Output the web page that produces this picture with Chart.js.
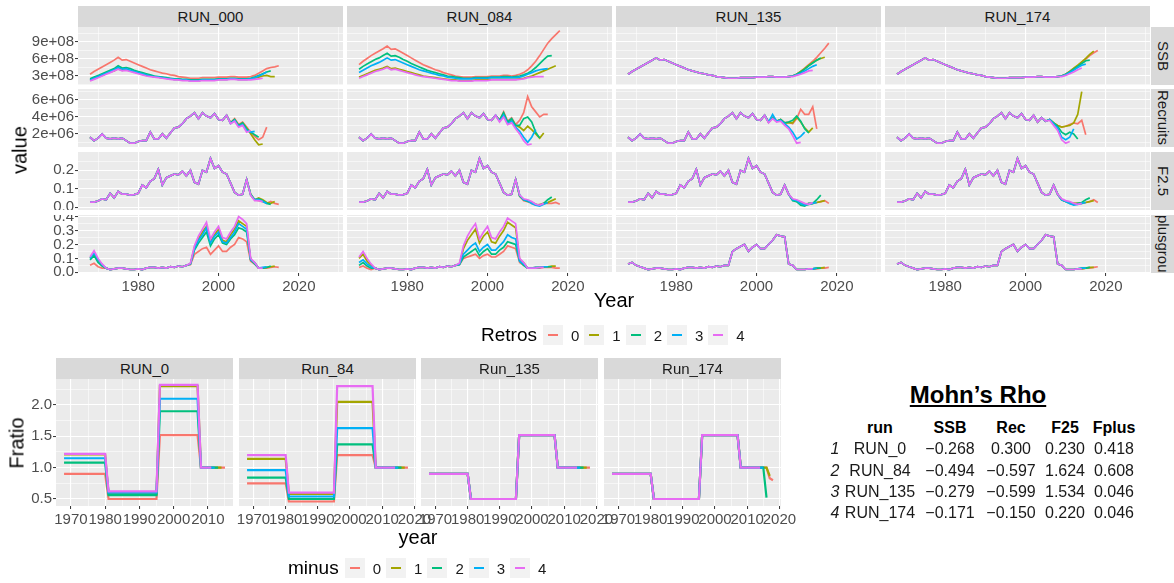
<!DOCTYPE html>
<html>
<head>
<meta charset="utf-8">
<script src="https://cdn.jsdelivr.net/npm/chart.js@4.4.1/dist/chart.umd.min.js"></script>
<style>
  body { margin: 0; width: 1174px; height: 583px; overflow: hidden; background: #fff; position: relative;
         font-family: 'Liberation Sans', Arial, sans-serif; }
  canvas { position: absolute; }
  .strip { position: absolute; background: #D9D9D9; color: #1A1A1A; font-size: 15px; display: flex;
           align-items: center; justify-content: center; overflow: hidden; white-space: nowrap; }
  .strip.v { display: block; writing-mode: vertical-rl; text-align: center; line-height: 25px; }
  .txt { position: absolute; white-space: nowrap; transform: translate(-50%, -50%); }
  .legend { position: absolute; display: flex; align-items: center; transform: translateY(-50%); }
  .legend .ttl { font-size: 19px; color: #000; margin-right: 6px; }
  .legend .key { width: 20px; height: 20px; background: #F2F2F2; position: relative; }
  .legend .key i { position: absolute; left: 5px; right: 5px; top: 9px; height: 2px; }
  .legend .lab { font-size: 15px; color: #1A1A1A; margin: 0 5px 0 8px; }
</style>
</head>
<body>
<script>
// ---- shared ----
const retroColors = ["#F8766D", "#A3A500", "#00BF7D", "#00B0F6", "#E76BF3"];
const retroNames = ["0", "1", "2", "3", "4"];
const topRuns = ["RUN_000", "RUN_084", "RUN_135", "RUN_174"];
const topVars = ["SSB", "Recruits", "F2.5", "plusgroup"];
const firstYear = 1968;

// ---- SSB (units of 1e8), one array per retro (0..4) ----
const ssb000 = [
  [3.3,3.8,4.2,4.6,5.0,5.4,5.8,6.3,5.8,5.9,5.6,5.3,5.0,4.7,4.4,4.1,3.9,3.7,3.5,3.4,3.2,3.1,2.9,2.8,2.7,2.6,2.6,2.6,2.7,2.7,2.7,2.7,2.8,2.8,2.8,2.9,2.9,2.8,2.8,2.8,2.9,3.1,3.5,3.9,4.3,4.5,4.6,4.8],
  [2.2,2.5,2.8,3.1,3.4,3.7,3.9,4.3,4.0,4.1,3.9,3.7,3.5,3.3,3.1,3.0,2.9,2.8,2.7,2.6,2.5,2.4,2.4,2.3,2.3,2.2,2.2,2.2,2.3,2.3,2.3,2.3,2.4,2.4,2.4,2.5,2.5,2.4,2.4,2.4,2.5,2.6,2.8,3.0,3.1,2.9,2.9],
  [2.5,2.8,3.1,3.4,3.7,4.0,4.3,4.8,4.4,4.5,4.3,4.0,3.8,3.6,3.4,3.2,3.0,2.9,2.8,2.7,2.6,2.5,2.5,2.4,2.4,2.3,2.3,2.3,2.4,2.4,2.4,2.4,2.5,2.5,2.5,2.6,2.6,2.5,2.5,2.5,2.6,2.8,3.1,3.4,3.7,3.9],
  [2.3,2.6,2.9,3.2,3.5,3.8,4.1,4.5,4.2,4.3,4.0,3.8,3.6,3.4,3.2,3.0,2.9,2.8,2.7,2.6,2.5,2.4,2.4,2.3,2.3,2.2,2.2,2.2,2.3,2.3,2.3,2.3,2.4,2.4,2.4,2.5,2.5,2.4,2.4,2.4,2.5,2.7,3.0,3.3,3.7],
  [2.1,2.4,2.7,3.0,3.3,3.6,3.9,4.2,3.9,4.0,3.8,3.6,3.4,3.2,3.0,2.9,2.8,2.7,2.6,2.5,2.4,2.3,2.3,2.2,2.2,2.1,2.1,2.1,2.2,2.2,2.2,2.2,2.3,2.3,2.3,2.4,2.4,2.3,2.3,2.3,2.3,2.4,2.5,2.6]
];
const ssb084 = [
  [5.0,5.6,6.1,6.6,7.0,7.4,7.8,8.3,7.7,7.8,7.4,7.0,6.6,6.2,5.8,5.4,5.0,4.7,4.4,4.1,3.9,3.6,3.4,3.2,3.0,2.9,2.8,2.8,2.8,2.9,2.9,2.9,2.9,3.0,3.0,3.0,3.1,3.1,3.0,3.1,3.3,3.6,4.1,4.8,5.6,6.6,7.7,8.8,9.6,10.3,11.0],
  [2.8,3.1,3.4,3.7,4.0,4.2,4.4,4.7,4.3,4.4,4.2,4.0,3.8,3.6,3.4,3.2,3.0,2.9,2.8,2.7,2.6,2.5,2.4,2.3,2.3,2.2,2.2,2.2,2.2,2.3,2.3,2.3,2.3,2.4,2.4,2.4,2.4,2.4,2.4,2.4,2.5,2.6,2.8,3.0,3.3,3.6,3.9,4.2,4.5,4.8],
  [4.2,4.7,5.1,5.5,5.9,6.2,6.6,7.0,6.5,6.6,6.3,5.9,5.6,5.2,4.9,4.6,4.3,4.0,3.8,3.6,3.4,3.2,3.0,2.9,2.8,2.7,2.6,2.6,2.6,2.7,2.7,2.7,2.7,2.8,2.8,2.8,2.9,2.9,2.8,2.9,3.0,3.2,3.5,3.9,4.5,5.2,5.9,6.5,6.6],
  [3.6,4.0,4.4,4.8,5.1,5.4,5.8,6.2,5.8,5.9,5.6,5.3,5.0,4.7,4.4,4.1,3.9,3.7,3.5,3.3,3.1,3.0,2.8,2.7,2.6,2.5,2.5,2.5,2.5,2.6,2.6,2.6,2.6,2.7,2.7,2.7,2.7,2.7,2.7,2.7,2.8,3.0,3.3,3.6,3.9,4.1,4.2,4.3],
  [2.6,2.9,3.2,3.5,3.8,4.0,4.2,4.5,4.1,4.2,4.0,3.8,3.6,3.4,3.2,3.0,2.9,2.8,2.7,2.6,2.5,2.4,2.3,2.2,2.2,2.1,2.1,2.1,2.1,2.2,2.2,2.2,2.2,2.3,2.3,2.3,2.3,2.3,2.3,2.3,2.4,2.5,2.7,2.8,2.9,2.9,2.9]
];
// 1968-2008, shared by RUN_135 / RUN_174, then retro tails from 2009
const ssbHistLate = [3.3,3.8,4.2,4.6,5.0,5.4,5.8,6.2,5.8,5.9,5.6,5.3,5.0,4.7,4.4,4.1,3.9,3.7,3.5,3.4,3.2,3.1,2.9,2.8,2.7,2.6,2.6,2.6,2.7,2.7,2.7,2.7,2.8,2.8,2.8,2.9,2.9,2.8,2.8,2.8,2.9];
const ssbTail135 = [
  [3.0,3.3,3.8,4.4,5.0,5.6,6.3,7.1,7.9,8.8],
  [3.0,3.3,3.8,4.3,4.9,5.4,5.8,6.1,6.3],
  [3.0,3.3,3.7,4.2,4.8,5.3,5.8,6.2],
  [3.0,3.2,3.5,3.9,4.3,4.7,5.0],
  [2.9,3.1,3.3,3.6,3.9,4.0]
];
const ssbTail174 = [
  [3.0,3.3,3.8,4.3,4.8,5.4,6.0,6.6,7.1,7.5],
  [3.0,3.3,3.8,4.4,4.9,5.5,6.1,6.8,7.4],
  [3.0,3.3,3.7,4.2,4.7,5.2,5.7,5.8],
  [3.0,3.2,3.6,4.0,4.5,4.9,5.1],
  [2.9,3.1,3.4,3.7,4.1,4.4]
];

// ---- Recruits (units of 1e6): 1968-2002 shared, tails from 2003 ----
const recHist = [1.6,1.2,1.5,2.0,1.5,1.4,1.5,1.4,1.5,1.2,0.9,0.9,1.1,1.2,1.2,2.2,1.4,1.4,2.0,1.5,2.1,2.7,2.8,3.2,3.8,4.1,4.5,3.8,4.5,4.1,3.9,4.4,3.7,3.6,4.2];
const recTail000 = [
  [3.3,3.8,3.1,3.4,2.8,2.2,1.7,1.3,1.6,2.8],
  [3.3,3.7,3.0,3.3,2.7,2.0,1.3,0.7,0.8],
  [3.3,3.7,3.0,3.3,2.6,2.2,1.9,1.6],
  [3.2,3.6,2.9,3.1,2.4,2.2,2.3],
  [3.2,3.5,2.8,3.0,2.2,2.4]
];
const recTail084 = [
  [3.6,4.6,3.5,3.9,3.1,3.6,4.5,6.4,5.2,4.6,4.0,4.3,4.3],
  [3.6,4.4,3.3,3.7,3.0,2.8,2.4,2.9,2.5,2.0,1.5,2.1],
  [3.6,4.5,3.4,3.8,3.0,3.0,3.8,4.0,3.4,2.2,1.5],
  [3.5,4.2,3.2,3.5,2.8,2.3,1.6,1.0,1.6,2.5],
  [3.4,4.0,3.1,3.3,2.6,2.0,1.2,0.7,0.8]
];
const recTail135 = [
  [3.4,3.9,3.5,3.7,3.3,3.4,3.2,3.8,4.9,4.3,4.3,5.2,2.6],
  [3.4,3.9,3.5,3.7,3.3,3.3,3.3,4.0,3.4,2.7,2.2,2.7],
  [3.4,3.9,3.5,3.7,3.3,3.4,3.6,4.1,3.5,2.6,2.1],
  [3.4,4.3,3.5,3.6,3.2,2.8,2.2,1.4,1.7,2.2],
  [3.3,3.8,3.4,3.5,3.0,2.6,1.8,0.9,1.0]
];
const recTail174 = [
  [3.4,3.9,3.5,3.7,3.3,3.0,2.8,2.9,3.1,3.3,3.2,3.6,1.9],
  [3.4,3.9,3.5,3.7,3.3,3.0,2.8,2.9,3.0,3.3,4.3,7.0],
  [3.4,3.9,3.5,3.7,3.3,2.9,2.2,1.9,2.2,2.0,1.4],
  [3.4,3.9,3.5,3.7,3.2,2.7,1.6,1.3,1.6,2.6],
  [3.4,3.9,3.5,3.6,3.0,2.4,1.3,0.9,1.1]
];

// ---- F2.5: 1968-2006 shared, tails from 2007 ----
const fHist = [.027,.027,.033,.045,.04,.075,.05,.085,.07,.07,.065,.068,.075,.12,.105,.14,.155,.205,.12,.16,.17,.18,.175,.195,.17,.2,.135,.125,.2,.19,.265,.21,.225,.19,.18,.13,.08,.065,.07];
const fTail000 = [
  [.15,.065,.04,.035,.03,.02,.03,.02,.015],
  [.15,.07,.04,.05,.04,.025,.02,.03],
  [.15,.07,.04,.045,.035,.02,.015],
  [.15,.065,.04,.04,.03,.02],
  [.15,.065,.035,.035,.03]
];
const fTail084 = [
  [.15,.06,.035,.03,.02,.01,.015,.02,.02,.02,.025,.015],
  [.15,.06,.04,.035,.025,.015,.01,.02,.025,.035,.045],
  [.15,.06,.04,.03,.025,.015,.01,.02,.04,.055],
  [.15,.065,.04,.035,.02,.01,.005,.015,.025],
  [.15,.065,.045,.04,.03,.015,.01,.02]
];
const fTail135 = [
  [.12,.07,.04,.035,.025,.015,.02,.02,.025,.03,.035,.02],
  [.12,.07,.04,.03,.02,.01,.015,.02,.025,.03,.035],
  [.12,.07,.035,.03,.01,.005,.02,.02,.04,.065],
  [.12,.07,.04,.035,.02,.01,.015,.02,.025],
  [.12,.07,.045,.04,.03,.02,.015,.025]
];
const fTail174 = [
  [.12,.07,.04,.03,.025,.02,.02,.02,.025,.03,.04,.025],
  [.12,.07,.04,.03,.025,.02,.02,.02,.025,.03,.035],
  [.12,.07,.04,.03,.02,.015,.02,.025,.04,.05],
  [.12,.07,.04,.03,.02,.01,.015,.02,.025],
  [.12,.07,.045,.035,.03,.02,.015,.02]
];

// ---- plusgroup: early 1968-71, shared 1972-92, high 1993-2009, tails from 2010 ----
const plusMid = [.03,.02,.025,.03,.03,.025,.02,.02,.025,.02,.03,.035,.035,.03,.035,.03,.04,.035,.045,.04,.05];
const plusEarly000 = [[.05,.065,.04,.03],[.1,.13,.08,.05],[.09,.12,.07,.045],[.1,.14,.09,.055],[.11,.155,.1,.06]];
const plusHigh000 = [
  [.055,.13,.15,.17,.18,.13,.16,.19,.15,.15,.18,.2,.25,.24,.22,.08,.06],
  [.06,.18,.24,.29,.33,.22,.27,.31,.23,.22,.27,.31,.37,.35,.33,.09,.07],
  [.06,.16,.21,.25,.29,.19,.24,.27,.21,.2,.24,.27,.32,.31,.29,.09,.06],
  [.06,.17,.23,.27,.32,.21,.26,.29,.22,.21,.25,.29,.35,.33,.31,.09,.07],
  [.065,.19,.26,.31,.36,.24,.29,.33,.25,.24,.29,.33,.40,.38,.35,.1,.07]
];
const plusTail000 = [[.03,.03,.03,.035,.04,.035],[.03,.03,.035,.04,.045],[.03,.03,.035,.045],[.03,.035,.04],[.03,.03]];
const plusEarly084 = [[.035,.045,.03,.02],[.1,.13,.08,.05],[.05,.07,.045,.03],[.07,.09,.06,.04],[.11,.15,.1,.06]];
const plusHigh084 = [
  [.055,.10,.11,.12,.13,.10,.12,.13,.11,.11,.13,.15,.19,.18,.17,.07,.05],
  [.06,.17,.23,.27,.31,.21,.26,.29,.22,.21,.26,.30,.36,.34,.32,.09,.07],
  [.055,.11,.13,.15,.17,.12,.15,.17,.13,.13,.16,.18,.22,.21,.2,.08,.05],
  [.06,.13,.16,.19,.21,.15,.18,.2,.16,.16,.19,.22,.27,.25,.24,.08,.06],
  [.065,.19,.26,.31,.35,.24,.29,.33,.25,.24,.29,.33,.39,.37,.35,.1,.07]
];
const plusTail084 = [
  [.03,.03,.03,.03,.035,.035,.035,.03,.03],
  [.03,.03,.035,.035,.04,.04,.045,.045],
  [.03,.03,.03,.035,.04,.04,.04],
  [.03,.03,.035,.035,.04,.04],
  [.03,.03,.03,.035,.035]
];
const plusEarlyLate = [.06,.07,.05,.04];
const plusHighLate = [.05,.15,.17,.185,.2,.15,.18,.2,.17,.17,.2,.23,.27,.26,.255,.06,.05];
const plusTail135 = [
  [.02,.02,.02,.025,.025,.025,.03,.03,.035],
  [.02,.02,.02,.025,.025,.03,.03,.035],
  [.02,.02,.02,.025,.025,.03,.03],
  [.02,.02,.02,.025,.025,.03],
  [.02,.02,.02,.025,.025]
];
const plusTail174 = [
  [.02,.02,.02,.025,.025,.03,.03,.035,.04],
  [.02,.02,.02,.025,.025,.03,.035,.035],
  [.02,.02,.02,.025,.03,.03,.035],
  [.02,.02,.02,.025,.03,.03],
  [.02,.02,.02,.025,.025]
];

// ---- tick labels ----
const topYearMajor = [1980, 2000, 2020];
const topYearMinor = [1970, 1990, 2010, 2030];
const ssbMajor = [3, 6, 9], ssbMinor = [1.5, 4.5, 7.5, 10.5];
const recMajor = [2, 4, 6], recMinor = [1, 3, 5, 7];
const fMajor = [0, 0.1, 0.2], fMinor = [0.05, 0.15, 0.25];
const plusMajor = [0, 0.1, 0.2, 0.3, 0.4], plusMinor = [0.05, 0.15, 0.25, 0.35];

// ---- Fratio step lines, [year, value] points ----
const fratioRuns = ["RUN_0", "Run_84", "Run_135", "Run_174"];
const fratio0 = [
  [[1968,.9],[1980,.9],[1981,.5],[1995,.5],[1996,1.52],[2007,1.52],[2008,1],[2015,1]],
  [[1968,1.21],[1980,1.21],[1981,.58],[1995,.58],[1996,2.3],[2007,2.3],[2008,1],[2014,1]],
  [[1968,1.08],[1980,1.08],[1981,.56],[1995,.56],[1996,1.9],[2007,1.9],[2008,1],[2013,1]],
  [[1968,1.15],[1980,1.15],[1981,.6],[1995,.6],[1996,2.1],[2007,2.1],[2008,1],[2012,1]],
  [[1968,1.22],[1980,1.22],[1981,.62],[1995,.62],[1996,2.32],[2007,2.32],[2008,1],[2011,1]]
];
const fratio84 = [
  [[1968,.75],[1980,.75],[1981,.46],[1995,.46],[1996,1.2],[2007,1.2],[2008,1],[2018,1]],
  [[1968,1.14],[1980,1.14],[1981,.58],[1995,.58],[1996,2.05],[2007,2.05],[2008,1],[2017,1]],
  [[1968,.84],[1980,.84],[1981,.5],[1995,.5],[1996,1.37],[2007,1.37],[2008,1],[2016,1]],
  [[1968,.96],[1980,.96],[1981,.54],[1995,.54],[1996,1.63],[2007,1.63],[2008,1],[2015,1]],
  [[1968,1.2],[1980,1.2],[1981,.6],[1995,.6],[1996,2.3],[2007,2.3],[2008,1],[2014,1]]
];
const fratio135 = [
  [[1968,.9],[1980,.9],[1981,.5],[1995,.5],[1996,1.52],[2007,1.52],[2008,1],[2018,1]],
  [[1968,.9],[1980,.9],[1981,.5],[1995,.5],[1996,1.52],[2007,1.52],[2008,1],[2017,1]],
  [[1968,.9],[1980,.9],[1981,.5],[1995,.5],[1996,1.52],[2007,1.52],[2008,1],[2016,1]],
  [[1968,.9],[1980,.9],[1981,.5],[1995,.5],[1996,1.52],[2007,1.52],[2008,1],[2015,1]],
  [[1968,.9],[1980,.9],[1981,.5],[1995,.5],[1996,1.52],[2007,1.52],[2008,1],[2014,1]]
];
const fratio174 = [
  [[1968,.9],[1980,.9],[1981,.5],[1995,.5],[1996,1.52],[2007,1.52],[2008,1],[2016,1],[2017,.83],[2018,.8]],
  [[1968,.9],[1980,.9],[1981,.5],[1995,.5],[1996,1.52],[2007,1.52],[2008,1],[2016,1],[2017,.87]],
  [[1968,.9],[1980,.9],[1981,.5],[1995,.5],[1996,1.52],[2007,1.52],[2008,1],[2015,1],[2016,.52]],
  [[1968,.9],[1980,.9],[1981,.5],[1995,.5],[1996,1.52],[2007,1.52],[2008,1],[2015,1]],
  [[1968,.9],[1980,.9],[1981,.5],[1995,.5],[1996,1.52],[2007,1.52],[2008,1],[2014,1]]
];
const fratioMajor = [0.5, 1, 1.5, 2], fratioMinor = [0.75, 1.25, 1.75, 2.25];
const yearMajor = [1970, 1980, 1990, 2000, 2010, 2020];
const yearMinor = [1965, 1975, 1985, 1995, 2005, 2015];

// ---- Mohn's rho table ----
const rhoHeader = ["run", "SSB", "Rec", "F25", "Fplus"];
const rhoRun = ["RUN_0", "RUN_84", "RUN_135", "RUN_174"];
const rhoSSB = [-0.268, -0.494, -0.279, -0.171];
const rhoRec = [0.300, -0.597, -0.599, -0.150];
const rhoF25 = [0.230, 1.624, 1.534, 0.220];
const rhoFplus = [0.418, 0.608, 0.046, 0.046];

Chart.defaults.font.family = "'Liberation Sans', Arial, sans-serif";
Chart.defaults.font.size = 15;
Chart.defaults.color = "#4D4D4D";

const pts = (values) => values.map((v, i) => ({ x: firstYear + i, y: v }));
const pairs = (list) => list.map(([x, y]) => ({ x, y }));
const tickList = (major, minor, min, max) =>
  major.concat(minor).filter(v => v >= min && v <= max).sort((a, b) => a - b).map(v => ({ value: v }));

// grey panel background under the grid
const panelBg = {
  id: "panelBg",
  beforeDraw(chart) {
    const { ctx, chartArea: a } = chart;
    ctx.save();
    ctx.fillStyle = "#EBEBEB";
    ctx.fillRect(a.left, a.top, a.width, a.height);
    ctx.restore();
  }
};

function axisOpts(ax, size, isX, show) {
  const major = new Set(ax.major);
  const isMajor = (c) => c.tick && major.has(c.tick.value);
  return {
    type: "linear", min: ax.min, max: ax.max,
    afterBuildTicks: (s) => { s.ticks = tickList(ax.major, ax.minor, ax.min, ax.max); },
    afterFit: (s) => {
      if (isX) { s.height = size; s.paddingLeft = 0; s.paddingRight = 0; }
      else { s.width = size; s.paddingTop = 0; s.paddingBottom = 0; }
    },
    border: { display: false },
    grid: {
      color: "#FFFFFF",
      lineWidth: (c) => isMajor(c) ? 1.1 : 0.55,
      drawTicks: show, tickLength: 3, tickWidth: 1,
      tickColor: (c) => isMajor(c) ? "#333333" : "rgba(0,0,0,0)"
    },
    ticks: {
      display: show, autoSkip: false, maxRotation: 0, minRotation: 0, padding: isX ? 2 : 1,
      color: "#4D4D4D", font: { size: 15 },
      callback: (v) => major.has(v) ? ax.fmt(v) : ""
    }
  };
}

function drawPanel(p) {
  const canvas = document.createElement("canvas");
  const cw = p.padL + p.axisW + p.w + p.padR;
  const ch = p.h + p.axisH;
  canvas.width = cw;
  canvas.height = ch;
  canvas.style.left = (p.left - p.axisW - p.padL) + "px";
  canvas.style.top = p.top + "px";
  canvas.style.width = cw + "px";
  canvas.style.height = ch + "px";
  document.body.appendChild(canvas);
  new Chart(canvas, {
    type: "line",
    data: {
      datasets: p.series.map((s, k) => ({
        data: s, borderColor: retroColors[k], borderWidth: p.lw,
        pointRadius: 0, tension: 0, fill: false, order: 4 - k
      }))
    },
    options: {
      responsive: false, animation: false, events: [],
      layout: { padding: { left: p.padL, right: p.padR, top: 0, bottom: 0 } },
      plugins: { legend: { display: false }, tooltip: { enabled: false } },
      scales: {
        x: axisOpts(p.x, p.axisH, true, p.axisH > 0),
        y: axisOpts(p.y, p.axisW, false, p.axisW > 0)
      }
    },
    plugins: [panelBg]
  });
}

function addText(x, y, str, css, rot) {
  const d = document.createElement("div");
  d.className = "txt";
  d.textContent = str;
  Object.assign(d.style, { left: x + "px", top: y + "px" }, css);
  if (rot) d.style.transform = "translate(-50%, -50%) rotate(" + rot + "deg)";
  document.body.appendChild(d);
  return d;
}

function addStrip(x, y, w, h, str, vertical) {
  const d = document.createElement("div");
  d.className = "strip" + (vertical ? " v" : "");
  Object.assign(d.style, { left: x + "px", top: y + "px", width: w + "px", height: h + "px" });
  d.textContent = str;
  document.body.appendChild(d);
}

function addLegend(x, y, title) {
  const d = document.createElement("div");
  d.className = "legend";
  d.style.left = x + "px";
  d.style.top = y + "px";
  let html = '<span class="ttl">' + title + "</span>";
  retroNames.forEach((n, k) => {
    html += '<span class="key"><i style="background:' + retroColors[k] + '"></i></span><span class="lab">' + n + "</span>";
  });
  d.innerHTML = html;
  document.body.appendChild(d);
}

// ---- top facet grid ----
const colLeft = [78, 347, 616, 885];
const rowTop = [27, 89, 152, 215];
const topW = 265, topH = 58;

const joinTails = (hist, tails) => tails.map(t => hist.concat(t));
const plusLate = plusEarlyLate.concat(plusMid, plusHighLate);
const topSeries = {
  "SSB": [ssb000, ssb084, joinTails(ssbHistLate, ssbTail135), joinTails(ssbHistLate, ssbTail174)],
  "Recruits": [recTail000, recTail084, recTail135, recTail174].map(t => joinTails(recHist, t)),
  "F2.5": [fTail000, fTail084, fTail135, fTail174].map(t => joinTails(fHist, t)),
  "plusgroup": [
    plusEarly000.map((e, k) => e.concat(plusMid, plusHigh000[k], plusTail000[k])),
    plusEarly084.map((e, k) => e.concat(plusMid, plusHigh084[k], plusTail084[k])),
    joinTails(plusLate, plusTail135),
    joinTails(plusLate, plusTail174)
  ]
};
const topY = {
  "SSB": { min: 1.41, max: 11.65, major: ssbMajor, minor: ssbMinor, fmt: v => v + "e+08" },
  "Recruits": { min: 0.45, max: 7.3, major: recMajor, minor: recMinor, fmt: v => v + "e+06" },
  "F2.5": { min: -0.016, max: 0.30, major: fMajor, minor: fMinor, fmt: v => v.toFixed(1) },
  "plusgroup": { min: -0.005, max: 0.412, major: plusMajor, minor: plusMinor, fmt: v => v.toFixed(1) }
};
const topX = { min: 1965, max: 2031, major: topYearMajor, minor: topYearMinor, fmt: v => String(v) };

topRuns.forEach((run, ci) => {
  addStrip(colLeft[ci], 6, topW, 21, run, false);
  topVars.forEach((v, ri) => {
    drawPanel({
      left: colLeft[ci], top: rowTop[ri], w: topW, h: topH,
      padL: 0, padR: 0, axisW: ci === 0 ? 78 : 0, axisH: ri === 3 ? 24 : 0,
      x: topX, y: topY[v], lw: 1.7,
      series: topSeries[v][ci].map(pts)
    });
  });
});
topVars.forEach((v, ri) => addStrip(1151, rowTop[ri], 25, topH, v, true));

addText(20, 150, "value", { fontSize: "20px", color: "#000" }, -90);
addText(614, 300, "Year", { fontSize: "20px", color: "#000" });
addLegend(481, 335, "Retros");

// ---- bottom facet row (Fratio) ----
const bLeft = [56, 239, 421, 604];
const bTop = 379, bW = 177, bH = 127;
const fratioSeries = [fratio0, fratio84, fratio135, fratio174];
const fratioX = [
  { min: 1965.65, max: 2017.35 }, { min: 1965.5, max: 2020.5 },
  { min: 1965.5, max: 2020.5 }, { min: 1965.5, max: 2020.5 }
];
fratioRuns.forEach((run, ci) => {
  addStrip(bLeft[ci], 358, bW, 21, run, false);
  drawPanel({
    left: bLeft[ci], top: bTop, w: bW, h: bH,
    padL: ci === 0 ? 0 : 20, padR: 20, axisW: ci === 0 ? 56 : 0, axisH: 24,
    x: Object.assign({ major: yearMajor, minor: yearMinor, fmt: v => String(v) }, fratioX[ci]),
    y: { min: 0.388, max: 2.415, major: fratioMajor, minor: fratioMinor, fmt: v => v.toFixed(1) },
    lw: 2.2,
    series: fratioSeries[ci].map(pairs)
  });
});
addText(17, 443, "Fratio", { fontSize: "20px", color: "#000" }, -90);
addText(418, 537, "year", { fontSize: "20px", color: "#000" });
addLegend(288, 568, "minus");

// ---- Mohn's rho table ----
addText(978, 395, "Mohn\u2019s Rho", { fontSize: "24px", fontWeight: "bold", textDecoration: "underline", color: "#000" });
const rhoColX = [880, 950, 1011, 1065, 1114];
const rhoRowY = [449, 470.5, 491.5, 512.5];
const fmt3 = (v) => v.toFixed(3).replace("-", "\u2212");
rhoHeader.forEach((h, j) => addText(rhoColX[j], 428, h, { fontSize: "16px", fontWeight: "bold", color: "#000" }));
rhoRun.forEach((r, i) => {
  const y = rhoRowY[i];
  addText(835, y, String(i + 1), { fontSize: "16px", fontStyle: "italic", color: "#1A1A1A" });
  [r, fmt3(rhoSSB[i]), fmt3(rhoRec[i]), fmt3(rhoF25[i]), fmt3(rhoFplus[i])].forEach((t, j) =>
    addText(rhoColX[j], y, t, { fontSize: "16px", color: "#1A1A1A" }));
});
</script>
</body>
</html>
